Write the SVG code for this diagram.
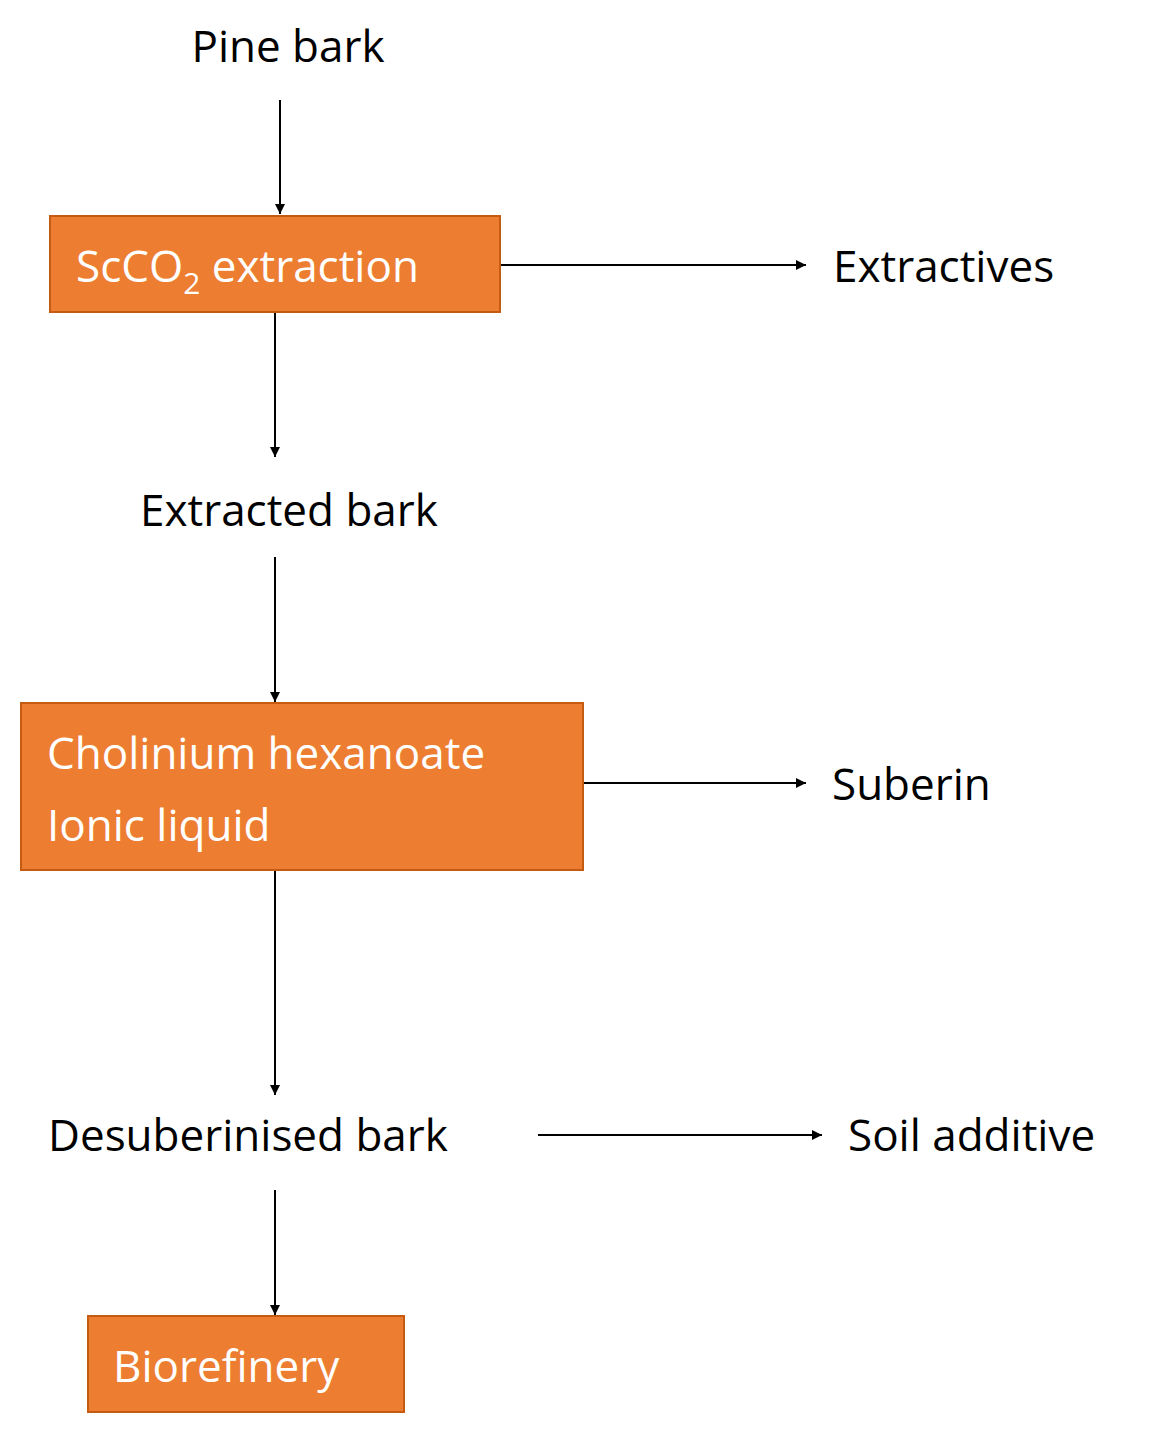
<svg xmlns="http://www.w3.org/2000/svg" width="1149" height="1439" viewBox="0 0 1149 1439">
<defs>
<marker id="ah" viewBox="0 0 10 10" refX="10" refY="5" markerWidth="10" markerHeight="10" markerUnits="userSpaceOnUse" orient="auto"><path d="M0,0 L10,5 L0,10 Z" fill="#000"/></marker>
</defs>
<style>
.t{font-family:"Open Sans","Noto Sans",sans-serif;font-size:44px;fill:#000}
.w{font-family:"Open Sans","Noto Sans",sans-serif;font-size:44px;fill:#fff}
.b{fill:#ED7D31;stroke:#C55A11;stroke-width:2}
.c line{stroke:#000;stroke-width:2;marker-end:url(#ah)}
</style>
<rect width="1149" height="1439" fill="#fff"/>
<g class="c" id="connectors">
<line x1="280" y1="100" x2="280" y2="214"/>
<line x1="500" y1="265" x2="806" y2="265"/>
<line x1="275" y1="312" x2="275" y2="457"/>
<line x1="275" y1="557" x2="275" y2="702"/>
<line x1="583" y1="783" x2="806" y2="783"/>
<line x1="275" y1="870" x2="275" y2="1095"/>
<line x1="538" y1="1135" x2="822" y2="1135"/>
<line x1="275" y1="1190" x2="275" y2="1315"/>
</g>
<g id="pine"><text class="t" x="288" y="62" text-anchor="middle">Pine bark</text></g>
<g id="scco2"><rect class="b" x="50" y="216" width="450" height="96"/><text class="w" x="76" y="282">ScCO<tspan font-size="30" dy="12">2</tspan><tspan dy="-12"> extraction</tspan></text></g>
<g id="extractives"><text class="t" x="833" y="282">Extractives</text></g>
<g id="extracted"><text class="t" x="140" y="526">Extracted bark</text></g>
<g id="ionic"><rect class="b" x="21" y="703" width="562" height="167"/><text class="w" x="47" y="769">Cholinium hexanoate</text><text class="w" x="47" y="841">Ionic liquid</text></g>
<g id="suberin"><text class="t" x="832" y="800">Suberin</text></g>
<g id="desub"><text class="t" x="48" y="1151">Desuberinised bark</text></g>
<g id="soil"><text class="t" x="848" y="1151">Soil additive</text></g>
<g id="bio"><rect class="b" x="88" y="1316" width="316" height="96"/><text class="w" x="113" y="1382">Biorefinery</text></g>
</svg>
